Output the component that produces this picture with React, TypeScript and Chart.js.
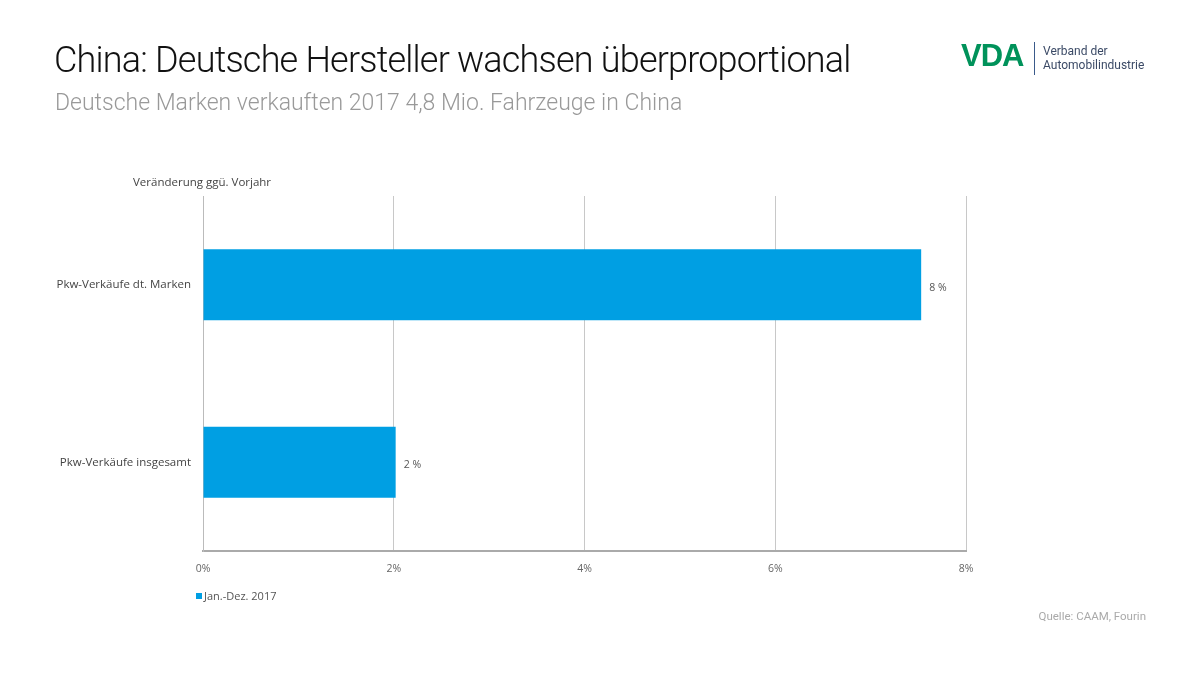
import React, { useEffect, useRef } from "react";
import { Chart, registerables } from "chart.js";

Chart.register(...registerables);

const categories = ["Pkw-Verkäufe dt. Marken", "Pkw-Verkäufe insgesamt"];
const seriesName = "Jan.-Dez. 2017";
const values = [7.53, 2.02];
const xTicks = [0, 2, 4, 6, 8];

const BLUE = "#009fe3";
const FONT = "Roboto, 'Noto Sans', sans-serif";
const SMALL = "'Open Sans', Roboto, sans-serif";

const valueLabels = {
  id: "valueLabels",
  afterDatasetsDraw(chart: any) {
    const { ctx } = chart;
    const meta = chart.getDatasetMeta(0);
    ctx.save();
    ctx.font = `10.5px ${SMALL}`;
    ctx.fillStyle = "#555";
    ctx.textBaseline = "middle";
    ctx.textAlign = "left";
    meta.data.forEach((bar: any, i: number) => {
      const v = chart.data.datasets[0].data[i] as number;
      ctx.fillText(`${Math.round(v)} %`, bar.x + 8, bar.y + 3);
    });
    ctx.restore();
  },
};

export default function App() {
  const ref = useRef<HTMLCanvasElement>(null);
  useEffect(() => {
    document.body.style.margin = "0";
    const chart = new Chart(ref.current!, {
      type: "bar",
      data: {
        labels: categories,
        datasets: [
          {
            label: seriesName,
            data: values,
            backgroundColor: BLUE,
            categoryPercentage: 1,
            barPercentage: 0.4,
          },
        ],
      },
      plugins: [valueLabels],
      options: {
        indexAxis: "y",
        animation: false,
        responsive: false,
        layout: { padding: { left: 0, right: 234, top: 196, bottom: 89 } },
        plugins: { legend: { display: false }, tooltip: { enabled: false } },
        scales: {
          x: {
            min: 0,
            max: 8,
            afterBuildTicks: (s: any) => {
              s.ticks = xTicks.map((v) => ({ value: v }));
            },
            afterFit: (s: any) => {
              s.height = 36;
            },
            ticks: {
              callback: (v: any) => `${v}%`,
              font: { family: SMALL, size: 10.5 },
              color: "#666",
              padding: 12,
              maxRotation: 0,
            },
            grid: { color: "#c8c8c8", drawTicks: false, lineWidth: 1 },
            border: { color: "#aaa", width: 2 },
          },
          y: {
            afterFit: (s: any) => {
              s.width = 203;
            },
            ticks: {
              font: { family: SMALL, size: 11.5 },
              color: "#444",
              padding: 12,
            },
            grid: { display: false, drawTicks: false },
            border: { color: "#bbb", width: 1 },
          },
        },
      },
    });
    return () => chart.destroy();
  }, []);

  return (
    <div style={{ position: "relative", width: 1200, height: 676, background: "#fff", fontFamily: FONT, overflow: "hidden" }}>
      <canvas ref={ref} width={1200} height={676} style={{ position: "absolute", left: 0, top: 0 }} />
      <div style={{ position: "absolute", left: 54, top: 39, fontSize: 36, fontWeight: 300, color: "#111", whiteSpace: "nowrap", letterSpacing: -0.8 }}>
        China: Deutsche Hersteller wachsen überproportional
      </div>
      <div style={{ position: "absolute", left: 55, top: 89, fontSize: 23, fontWeight: 300, color: "#999", whiteSpace: "nowrap" }}>
        Deutsche Marken verkauften 2017 4,8 Mio. Fahrzeuge in China
      </div>
      <div style={{ position: "absolute", left: 961, top: 38, fontSize: 31, fontWeight: 900, color: "#00925a", letterSpacing: -1, fontFamily: "'Liberation Sans', Arial, sans-serif" }}>
        VDA
      </div>
      <div style={{ position: "absolute", left: 1034, top: 42, width: 1, height: 33, background: "#3a5a8a" }} />
      <div style={{ position: "absolute", left: 1043, top: 44, fontSize: 12, lineHeight: "14px", color: "#3b4a66", whiteSpace: "nowrap" }}>
        Verband der
        <br />
        Automobilindustrie
      </div>
      <div style={{ position: "absolute", left: 133, top: 174, fontSize: 11.5, color: "#444", whiteSpace: "nowrap", fontFamily: SMALL }}>
        Veränderung ggü. Vorjahr
      </div>
      <div style={{ position: "absolute", left: 196, top: 588, fontSize: 11, color: "#555", whiteSpace: "nowrap", display: "flex", alignItems: "center", fontFamily: SMALL }}>
        <span style={{ display: "inline-block", width: 6, height: 6, background: BLUE, marginRight: 2 }} />
        {seriesName}
      </div>
      <div style={{ position: "absolute", right: 54, top: 609, fontSize: 11.5, color: "#aaa", whiteSpace: "nowrap" }}>
        Quelle: CAAM, Fourin
      </div>
    </div>
  );
}
